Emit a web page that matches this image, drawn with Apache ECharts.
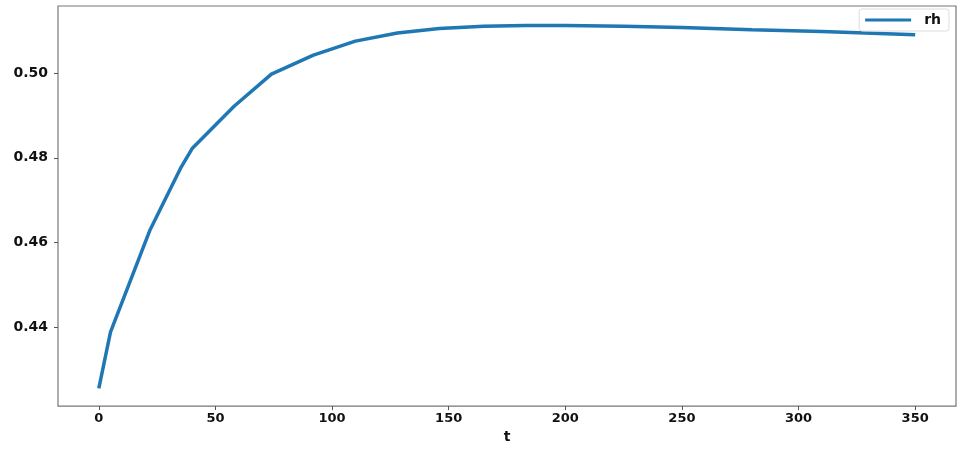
<!DOCTYPE html>
<html>
<head>
<meta charset="utf-8">
<script src="https://cdn.jsdelivr.net/npm/echarts@6/dist/echarts.min.js"></script>
<style>html,body{margin:0;padding:0;background:#fff;}#c{width:960px;height:449px;}</style>
</head>
<body>
<div id="c"></div>
<script>
const tValues = [0, 5, 22, 35, 40, 58, 74, 92, 110, 128, 146, 165, 183, 200, 225, 250, 280, 310, 350];
const rhValues = [0.4255, 0.4388, 0.4630, 0.4775, 0.4822, 0.4922, 0.4998, 0.5043, 0.5076, 0.5095, 0.5106, 0.5111, 0.5113, 0.5113, 0.5111, 0.5108, 0.5103, 0.5099, 0.5091];
const xTicks = [0, 50, 100, 150, 200, 250, 300, 350];
const yTicks = [0.44, 0.46, 0.48, 0.50];

const font = 'DejaVu Sans';
const chart = echarts.init(document.getElementById('c'));
chart.setOption({
  animation: false,
  backgroundColor: '#fff',
  grid: { left: 58, right: 4, top: 6, bottom: 33, show: true, borderColor: '#777', borderWidth: 1.2, containLabel: false },
  legend: {
    data: ['rh'], right: 11, top: 9,
    icon: 'rect', itemWidth: 46, itemHeight: 3,
    backgroundColor: '#fff', borderColor: '#ddd', borderWidth: 1, borderRadius: 3,
    padding: [4, 8, 4, 6], itemGap: 10,
    textStyle: { fontFamily: font, fontWeight: 'bold', fontSize: 14, color: '#111', padding: [0, 0, 0, 8] }
  },
  xAxis: {
    type: 'value', min: -17.5, max: 367.5,
    name: 't', nameLocation: 'middle', nameGap: 20,
    nameTextStyle: { fontFamily: font, fontWeight: 'bold', fontSize: 14, color: '#111' },
    axisLine: { show: false, onZero: false },
    splitLine: { show: false },
    axisTick: { show: true, length: 4, lineStyle: { color: '#555' }, customValues: xTicks },
    axisLabel: { customValues: xTicks, fontFamily: font, fontWeight: 'bold', fontSize: 13, color: '#111', margin: 6 }
  },
  yAxis: {
    type: 'value', min: 0.4213, max: 0.5159,
    axisLine: { show: false, onZero: false },
    splitLine: { show: false },
    axisTick: { show: true, length: 4, lineStyle: { color: '#555' }, customValues: yTicks },
    axisLabel: { customValues: yTicks, fontFamily: font, fontWeight: 'bold', fontSize: 14, color: '#111', margin: 10,
      formatter: v => v.toFixed(2) }
  },
  series: [{
    name: 'rh', type: 'line', showSymbol: false,
    data: tValues.map((t, i) => [t, rhValues[i]]),
    lineStyle: { color: '#1f77b4', width: 3.5 },
    itemStyle: { color: '#1f77b4' }
  }]
});
</script>
</body>
</html>
